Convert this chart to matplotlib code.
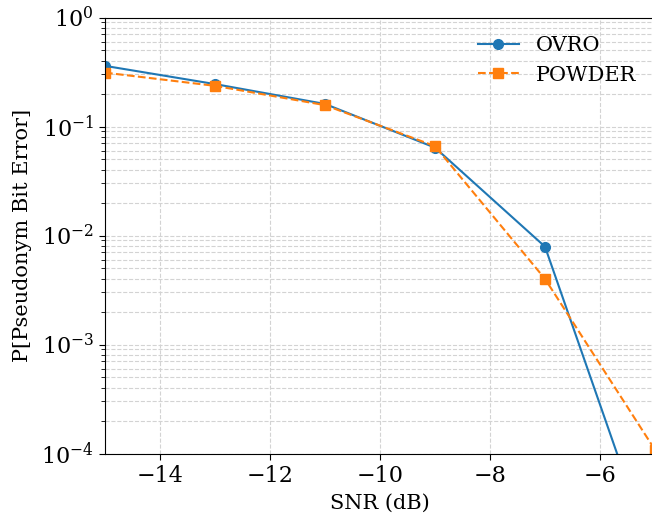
import matplotlib
matplotlib.use("Agg")
import matplotlib.pyplot as plt

snr = [-15, -13, -11, -9, -7, -5]
ovro = [0.36, 0.245, 0.161, 0.064, 0.0079, 1.0e-5]
powder = [0.312, 0.236, 0.157, 0.066, 0.004, 1.08e-4]

plt.rcParams["font.family"] = "DejaVu Serif"
plt.rcParams["font.size"] = 15
plt.rcParams["mathtext.fontset"] = "dejavuserif"

fig = plt.figure(figsize=(6.52, 5.17), dpi=100)
ax = fig.add_axes([105 / 652, (517 - 453.5) / 517, 550 / 652, 436 / 517])

ax.plot(snr, ovro, "-o", color="tab:blue", label="OVRO", markersize=7, linewidth=1.5)
ax.plot(snr, powder, "--s", color="tab:orange", label="POWDER", markersize=7, linewidth=1.5)

ax.set_yscale("log")
ax.set_xlim(-15, -5)
ax.set_ylim(1e-4, 1)
ax.set_xlabel("SNR (dB)", labelpad=5)
ax.set_ylabel("P[Pseudonym Bit Error]", labelpad=7)
ax.tick_params(which="major", length=4.5, labelsize=16)
ax.tick_params(which="minor", length=3)
ax.grid(True, which="both", linestyle="--", color="lightgray", linewidth=0.8)
ax.legend(loc="upper right", frameon=False)

fig.savefig("out.png", dpi=100)
